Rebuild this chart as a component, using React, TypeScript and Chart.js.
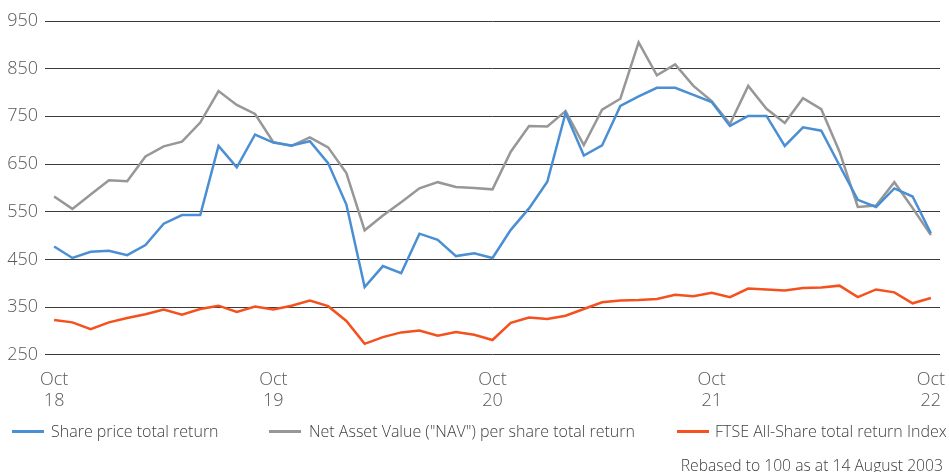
import React, { useEffect, useRef } from "react";
import { Chart, registerables } from "chart.js";

Chart.register(...registerables);

const monthNames = ["Oct", "Nov", "Dec", "Jan", "Feb", "Mar", "Apr", "May", "Jun", "Jul", "Aug", "Sep"];
const startYear = 18;
const months: string[] = [];
for (let i = 0; i < 49; i++) {
  const m = monthNames[i % 12];
  const yy = startYear + Math.floor((i + 9) / 12);
  months.push(`${m} ${yy}`);
}

const sharePrice = [
  477, 453, 466, 468, 459, 480, 525, 543, 543, 688, 643, 712, 695, 689, 698,
  652, 565, 392, 436, 421, 504, 491, 457, 463, 453, 512, 557, 613, 757, 668,
  689, 772, 792, 810, 810, 795, 780, 730, 751, 751, 688, 727, 720, 647, 575,
  560, 599, 582, 505,
];

const nav = [
  582, 556, 586, 616, 614, 666, 687, 697, 737, 803, 774, 755, 696, 688, 706,
  685, 631, 511, 542, 570, 599, 612, 602, 600, 597, 676, 730, 729, 761, 690,
  764, 787, 905, 836, 859, 814, 782, 734, 814, 766, 736, 788, 765, 676, 560,
  563, 612, 558, 501,
];

const ftse = [
  323, 318, 304, 318, 327, 335, 345, 334, 346, 353, 340, 351, 345, 353, 364,
  352, 321, 273, 287, 297, 301, 290, 298, 292, 281, 317, 328, 325, 332, 346,
  360, 364, 365, 367, 376, 373, 380, 371, 389, 387, 385, 390, 391, 395, 371,
  387, 381, 358, 369,
];

const seriesNames = [
  "Share price total return",
  'Net Asset Value ("NAV") per share total return',
  "FTSE All-Share total return Index",
];
const seriesColors = ["#4a8fd4", "#979797", "#f4511e"];
const footnote = "Rebased to 100 as at 14 August 2003";

const FONT = "'Open Sans', sans-serif";

// legend layout (pixel positions of swatch start and text start)
const legendPos = [
  { line: 12, text: 51 },
  { line: 269, text: 309 },
  { line: 677, text: 715 },
];

export default function App() {
  const ref = useRef<HTMLCanvasElement | null>(null);
  useEffect(() => {
    if (!ref.current) return;
    const chart = new Chart(ref.current, {
      type: "line",
      data: {
        labels: months,
        datasets: [
          { label: seriesNames[0], data: sharePrice, borderColor: seriesColors[0], backgroundColor: seriesColors[0], borderWidth: 2.5, pointRadius: 0, tension: 0 },
          { label: seriesNames[1], data: nav, borderColor: seriesColors[1], backgroundColor: seriesColors[1], borderWidth: 2.5, pointRadius: 0, tension: 0 },
          { label: seriesNames[2], data: ftse, borderColor: seriesColors[2], backgroundColor: seriesColors[2], borderWidth: 2.5, pointRadius: 0, tension: 0 },
        ],
      },
      options: {
        responsive: false,
        animation: false,
        layout: { padding: { top: 21, right: 9, left: 0, bottom: 60 } },
        scales: {
          x: {
            type: "category",
            offset: true,
            grid: {
              display: true,
              drawOnChartArea: false,
              drawTicks: true,
              tickLength: 14,
              color: "rgba(0,0,0,0)",
              tickColor: "rgba(0,0,0,0)",
            },
            border: { display: false },
            ticks: {
              autoSkip: false,
              maxRotation: 0,
              minRotation: 0,
              padding: 0,
              color: "#595959",
              font: { family: FONT, size: 18, weight: "300" as any, lineHeight: 1.2 },
              callback: (_v: any, i: number) =>
                i % 12 === 0 ? ["Oct", String(startYear + i / 12)] : null,
            },
          },
          y: {
            min: 250,
            max: 950,
            afterFit: (s: any) => { s.width = 45; },
            grid: { color: "#3a3a3a", lineWidth: 1, drawTicks: false },
            border: { display: false },
            ticks: {
              stepSize: 100,
              padding: 7,
              color: "#595959",
              font: { family: FONT, size: 18, weight: "300" as any },
            },
          },
        },
        plugins: {
          legend: { display: false },
          tooltip: { enabled: false },
        },
      },
    });
    return () => chart.destroy();
  }, []);

  const textStyle: React.CSSProperties = {
    position: "absolute",
    fontFamily: FONT,
    fontWeight: 300,
    color: "#404040",
    whiteSpace: "nowrap",
    lineHeight: "20px",
    height: 20,
  };

  return (
    <div style={{ position: "fixed", left: 0, top: 0, width: 949, height: 472, background: "#fff" }}>
      <canvas ref={ref} width={949} height={472} style={{ width: 949, height: 472, display: "block" }} />
      {seriesNames.map((name, i) => (
        <React.Fragment key={name}>
          <div style={{ position: "absolute", left: legendPos[i].line, top: 430, width: 32, height: 3, background: seriesColors[i] }} />
          <div style={{ ...textStyle, left: legendPos[i].text, top: 421, fontSize: 16 }}>{name}</div>
        </React.Fragment>
      ))}
      <div style={{ ...textStyle, right: 6, top: 455, fontSize: 15.7 }}>{footnote}</div>
    </div>
  );
}
